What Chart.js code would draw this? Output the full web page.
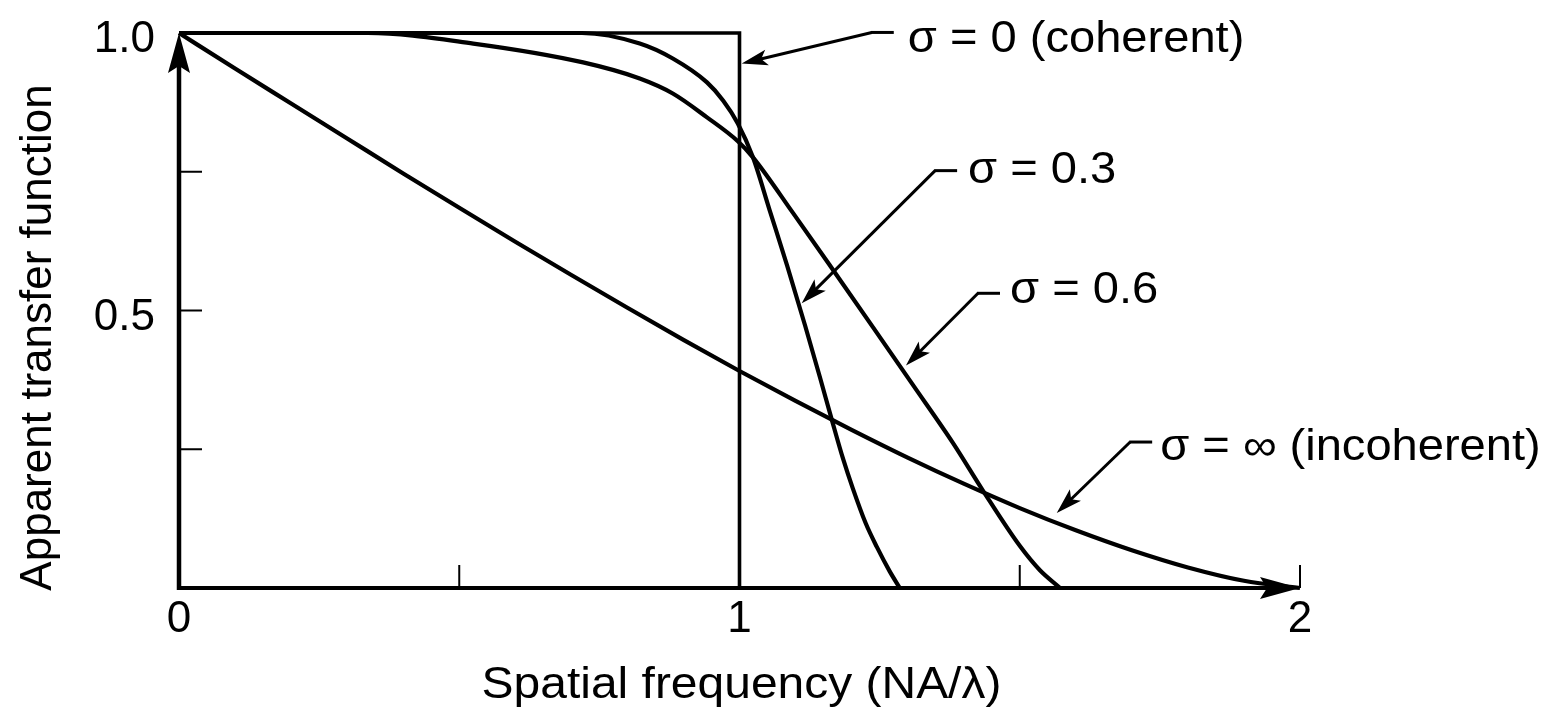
<!DOCTYPE html>
<html>
<head>
<meta charset="utf-8">
<title>Apparent transfer function</title>
<script src="https://cdn.jsdelivr.net/npm/chart.js@4.4.1/dist/chart.umd.min.js"></script>
<style>
  html, body { margin: 0; padding: 0; background: #fff; }
  canvas { display: block; }
</style>
</head>
<body>
<canvas id="otf" width="1558" height="710"></canvas>
<script>
// spatial frequency is in units of NA/lambda
var freqCoherent = [0, 1, 1];
var otfCoherent = [1, 1, 0];

var freqSigma03 = [0, 0.719, 0.822, 0.881, 0.942, 0.971, 0.997, 1.024, 1.054, 1.085, 1.117, 1.144, 1.165, 1.185, 1.202, 1.225, 1.245, 1.268, 1.286];
var otfSigma03 = [1, 1, 0.981, 0.954, 0.911, 0.878, 0.837, 0.776, 0.680, 0.581, 0.473, 0.378, 0.302, 0.232, 0.180, 0.117, 0.074, 0.030, 0];

var freqSigma06 = [0, 0.337, 0.525, 0.721, 0.822, 0.881, 0.942, 0.997, 1.024, 1.096, 1.167, 1.238, 1.310, 1.381, 1.434, 1.500, 1.536, 1.572];
var otfSigma06 = [1, 1, 0.981, 0.947, 0.918, 0.891, 0.848, 0.805, 0.776, 0.675, 0.573, 0.470, 0.365, 0.261, 0.176, 0.076, 0.032, 0];

var freqIncoherent = [0, 0.1, 0.2, 0.3, 0.4, 0.5, 0.6, 0.7, 0.8, 0.9, 1.0, 1.1, 1.2, 1.3, 1.4, 1.5, 1.6, 1.7, 1.8, 1.9, 2.0];
var otfIncoherent = [1.000, 0.936, 0.873, 0.810, 0.747, 0.685, 0.624, 0.564, 0.505, 0.447, 0.391, 0.337, 0.285, 0.235, 0.188, 0.144, 0.104, 0.068, 0.037, 0.013, 0];

var xTicks = [0, 0.5, 1, 1.5, 2];
var xTickLabels = ['0', '', '1', '', '2'];
var yTicks = [0.25, 0.5, 0.75, 1];
var yTickLabels = ['', '0.5', '', '1.0'];

var xTitle = 'Spatial frequency (NA/\u03bb)';
var yTitle = 'Apparent transfer function';

// callout labels: arrow tip on the curve, elbow where the leader turns horizontal
var noteText = ['\u03c3 = 0 (coherent)', '\u03c3 = 0.3', '\u03c3 = 0.6', '\u03c3 = \u221e (incoherent)'];
var noteTip = [[1.004, 0.945], [1.111, 0.513], [1.297, 0.401], [1.566, 0.135]];
var noteElbow = [[1.236, 1.001], [1.349, 0.752], [1.4255, 0.531], [1.697, 0.263]];
// text offset from the elbow, in pixels
var noteDx = [36, 33, 32, 30];
var noteDy = [20, 12, 10, 18];

var FONT = '"Liberation Sans", Arial, Helvetica, sans-serif';
var FONT_SIZE = 44;
var STRETCH = 1.07;

function pts(xs, ys) {
  return xs.map(function(x, i) { return { x: x, y: ys[i] }; });
}

function seg(ctx, x1, y1, x2, y2, w) {
  ctx.lineWidth = w;
  ctx.beginPath();
  ctx.moveTo(x1, y1);
  ctx.lineTo(x2, y2);
  ctx.stroke();
}

// filled arrowhead pointing from (fx,fy) towards the tip
function head(ctx, tx, ty, fx, fy, len, half, notch) {
  var a = Math.atan2(ty - fy, tx - fx);
  ctx.save();
  ctx.translate(tx, ty);
  ctx.rotate(a);
  ctx.beginPath();
  ctx.moveTo(0, 0);
  ctx.lineTo(-len, -half);
  ctx.lineTo(-len + notch, 0);
  ctx.lineTo(-len, half);
  ctx.closePath();
  ctx.fill();
  ctx.restore();
}

function text(ctx, s, x, y, align, stretch, rotate) {
  ctx.save();
  ctx.translate(x, y);
  ctx.scale(stretch, 1);
  if (rotate) ctx.rotate(-Math.PI / 2);
  ctx.font = FONT_SIZE + 'px ' + FONT;
  ctx.textAlign = align;
  ctx.textBaseline = 'alphabetic';
  ctx.fillText(s, 0, 0);
  ctx.restore();
}

var frame = {
  id: 'frame',
  afterDatasetsDraw: function(chart) {
    var ctx = chart.ctx, sx = chart.scales.x, sy = chart.scales.y;
    var x0 = sx.getPixelForValue(0), x2 = sx.getPixelForValue(2);
    var y0 = sy.getPixelForValue(0), y1 = sy.getPixelForValue(1);
    ctx.save();
    ctx.strokeStyle = '#000';
    ctx.fillStyle = '#000';
    ctx.lineCap = 'butt';

    // axes with arrowheads
    seg(ctx, x0, y0 + 2, x0, y1 + 30, 4.5);
    seg(ctx, x0 - 2, y0, x2 - 30, y0, 4);
    head(ctx, x0, y1, x0, y0, 40, 11, 7);
    head(ctx, x2, y0, x0, y0, 40, 11, 7);

    // inward ticks and their labels
    xTicks.forEach(function(v, i) {
      var px = sx.getPixelForValue(v);
      if (v > 0) seg(ctx, px, y0, px, y0 - 23, 2);
      if (xTickLabels[i]) text(ctx, xTickLabels[i], px, y0 + 44, 'center', 1, false);
    });
    yTicks.forEach(function(v, i) {
      var py = sy.getPixelForValue(v);
      if (v < 1) seg(ctx, x0, py, x0 + 23, py, 2);
      if (yTickLabels[i]) text(ctx, yTickLabels[i], x0 - 24, py + 19, 'right', 1, false);
    });

    // axis titles
    text(ctx, xTitle, (x0 + x2) / 2 + 2, y0 + 110, 'center', 1.09, false);
    text(ctx, yTitle, 51, (y0 + y1) / 2 + 27, 'center', 1, true);

    // callouts
    noteText.forEach(function(s, i) {
      var tx = sx.getPixelForValue(noteTip[i][0]), ty = sy.getPixelForValue(noteTip[i][1]);
      var ex = sx.getPixelForValue(noteElbow[i][0]), ey = sy.getPixelForValue(noteElbow[i][1]);
      var a = Math.atan2(ty - ey, tx - ex);
      seg(ctx, ex, ey, tx - Math.cos(a) * 12, ty - Math.sin(a) * 12, 3);
      seg(ctx, ex - 1, ey, ex + 22, ey, 3);
      head(ctx, tx, ty, ex, ey, 26, 8, 6);
      text(ctx, s, ex + noteDx[i], ey + noteDy[i], 'left', STRETCH, false);
    });
    ctx.restore();
  }
};

function curve(xs, ys, width, smooth) {
  return {
    data: pts(xs, ys),
    borderColor: '#000',
    borderWidth: width,
    showLine: true,
    pointRadius: 0,
    fill: false,
    clip: false,
    tension: 0,
    cubicInterpolationMode: smooth ? 'monotone' : 'default'
  };
}

new Chart(document.getElementById('otf'), {
  type: 'scatter',
  data: {
    datasets: [
      curve(freqCoherent, otfCoherent, 3.6, false),
      curve(freqSigma03, otfSigma03, 4.2, true),
      curve(freqSigma06, otfSigma06, 4.2, true),
      curve(freqIncoherent, otfIncoherent, 4.2, true)
    ]
  },
  options: {
    responsive: false,
    animation: false,
    devicePixelRatio: 1,
    layout: { padding: { left: 179, right: 258, top: 33, bottom: 122 } },
    plugins: { legend: { display: false }, tooltip: { enabled: false } },
    scales: {
      x: { type: 'linear', min: 0, max: 2, display: false },
      y: { type: 'linear', min: 0, max: 1, display: false }
    }
  },
  plugins: [frame]
});
</script>
</body>
</html>
